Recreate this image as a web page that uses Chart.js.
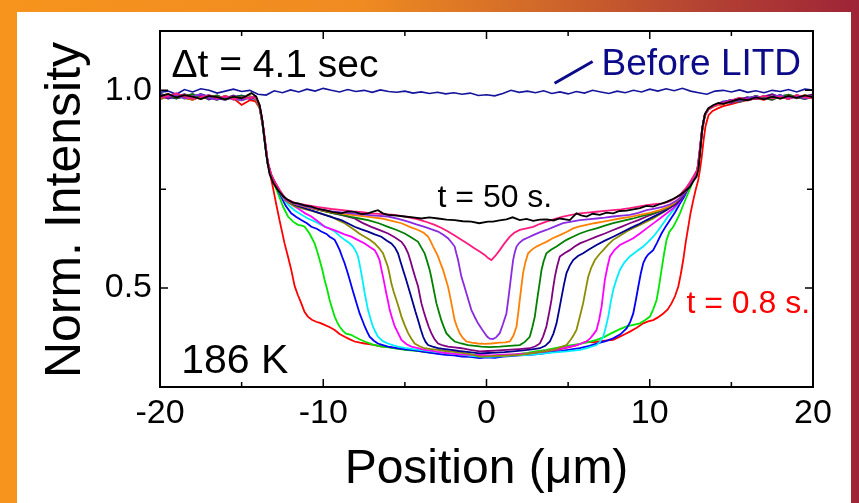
<!DOCTYPE html>
<html>
<head>
<meta charset="utf-8">
<script src="https://cdn.jsdelivr.net/npm/chart.js@4.4.1/dist/chart.umd.min.js"></script>
<style>
  html, body { margin: 0; padding: 0; background: #fff; }
</style>
</head>
<body>
<canvas id="profileChart" width="859" height="503"></canvas>
<script>
// times after the start of LITD (s), one profile every 4.1 s
const times = [0.8, 4.9, 9.0, 13.1, 17.2, 21.3, 25.4, 29.5, 33.6, 37.7, 41.8, 45.9, 50.0];
const colors = ['#ff0000', '#00e600', '#0000ff', '#00eeff', '#ff00ff', '#8c8c00', '#000090',
  '#800080', '#008000', '#ff8000', '#8a2be2', '#ff1a80', '#000000'];

const xMajor = [-20, -10, 0, 10, 20];
const xMinor = [-15, -5, 5, 15];
const yMajor = [0.5, 1.0];
const yMinor = [0.75];

// profiles: [position (um), normalised intensity]
const p08 = [[-20,.978],[-19.5,.984],[-19,.989],[-18.5,.981],[-18,.976],[-17.5,.985],[-17,.982],[-16.5,.977],[-16,.986],[-15.5,.98],[-15,.963],[-14.5,.975],[-14.15,.972],[-13.9,.955],[-13.7,.91],[-13.55,.86],[-13.4,.816],[-13.09,.756],[-12.88,.712],[-12.68,.672],[-12.37,.613],[-12.15,.578],[-11.96,.546],[-11.75,.505],[-11.55,.482],[-11.35,.462],[-11.15,.44],[-10.94,.428],[-10.7,.42],[-10.43,.415],[-10.2,.412],[-9.92,.407],[-9.6,.401],[-9.3,.394],[-9.0,.384],[-8.69,.377],[-8.4,.371],[-8.08,.365],[-7.75,.362],[-7.46,.36],[-7.0,.357],[-6.5,.353],[-6.0,.351],[-5.5,.348],[-5.0,.345],[-4.5,.343],[-4.0,.34],[-3.5,.338],[-3.0,.336],[-2.5,.333],[-2.0,.332],[-1.5,.33],[-1.0,.329],[-0.5,.328],[0,.327],[0.5,.328],[1,.329],[1.5,.33],[2,.332],[2.5,.334],[3,.336],[3.5,.339],[4,.342],[4.5,.346],[5,.35],[5.5,.355],[6.13,.365],[6.5,.363],[7,.366],[7.4,.368],[7.76,.369],[8.2,.378],[8.5,.384],[8.78,.39],[9.2,.4],[9.6,.411],[9.9,.416],[10.21,.419],[10.5,.426],[10.83,.436],[11.1,.446],[11.34,.462],[11.55,.48],[11.75,.504],[11.9,.535],[12.05,.571],[12.2,.615],[12.36,.655],[12.5,.69],[12.67,.723],[12.82,.75],[12.97,.773],[13.08,.8],[13.18,.83],[13.3,.875],[13.42,.91],[13.6,.937],[13.85,.948],[14.2,.955],[14.5,.96],[15,.965],[15.5,.971],[16,.975],[16.5,.98],[17,.976],[17.5,.984],[18,.979],[18.5,.986],[19,.982],[19.5,.988],[20,.983]];
const p49 = [[-20,.99],[-19.5,.983],[-19,.987],[-18.5,.979],[-18,.985],[-17.5,.99],[-17,.981],[-16.5,.976],[-16,.984],[-15.5,.979],[-15,.975],[-14.5,.982],[-14.15,.979],[-13.9,.958],[-13.72,.915],[-13.55,.858],[-13.38,.81],[-13.15,.778],[-12.95,.757],[-12.78,.74],[-12.45,.705],[-12.16,.681],[-11.85,.668],[-11.55,.66],[-11.3,.658],[-11.14,.655],[-10.84,.638],[-10.53,.613],[-10.35,.59],[-10.22,.571],[-10.05,.545],[-9.92,.521],[-9.75,.495],[-9.61,.47],[-9.45,.448],[-9.3,.428],[-9.15,.414],[-9.0,.403],[-8.8,.392],[-8.6,.385],[-8.3,.382],[-8.08,.377],[-7.75,.37],[-7.46,.365],[-7.0,.358],[-6.5,.353],[-6.0,.35],[-5.5,.347],[-5.0,.344],[-4.5,.342],[-4.0,.34],[-3.5,.337],[-3.0,.336],[-2.5,.333],[-2.0,.332],[-1.5,.33],[-1.0,.329],[-0.5,.327],[0,.328],[0.5,.327],[1,.33],[1.5,.331],[2,.334],[2.5,.336],[3,.34],[3.67,.344],[4.2,.348],[4.7,.352],[5.2,.356],[5.7,.359],[6.2,.363],[6.74,.369],[7.2,.376],[7.6,.385],[8.1,.395],[8.58,.403],[9.0,.407],[9.4,.411],[9.7,.419],[10.01,.428],[10.2,.445],[10.42,.47],[10.57,.505],[10.72,.546],[10.87,.585],[11.03,.622],[11.2,.642],[11.44,.655],[11.65,.672],[11.85,.689],[12.05,.71],[12.26,.731],[12.47,.752],[12.67,.773],[12.85,.79],[12.98,.81],[13.1,.855],[13.22,.905],[13.38,.94],[13.6,.953],[13.95,.96],[14.5,.97],[15,.976],[15.5,.973],[16,.98],[16.5,.985],[17,.978],[17.5,.983],[18,.988],[18.5,.98],[19,.985],[19.5,.979],[20,.986]];
const p90 = [[-20,.98],[-19.5,.986],[-19,.992],[-18.5,.984],[-18,.978],[-17.5,.983],[-17,.988],[-16.5,.98],[-16,.985],[-15.5,.977],[-15,.983],[-14.5,.979],[-14.15,.981],[-13.9,.96],[-13.72,.918],[-13.55,.862],[-13.4,.815],[-13.2,.786],[-13.0,.767],[-12.8,.75],[-12.6,.733],[-12.3,.708],[-11.96,.689],[-11.65,.68],[-11.35,.672],[-11.0,.664],[-10.73,.655],[-10.4,.65],[-10.12,.643],[-9.8,.637],[-9.61,.63],[-9.45,.626],[-9.3,.622],[-9.15,.61],[-8.99,.596],[-8.85,.58],[-8.69,.563],[-8.53,.542],[-8.38,.521],[-8.23,.499],[-8.08,.478],[-7.92,.456],[-7.77,.436],[-7.6,.418],[-7.46,.403],[-7.3,.389],[-7.16,.377],[-6.9,.367],[-6.65,.36],[-6.35,.356],[-6.04,.352],[-5.5,.348],[-5.0,.345],[-4.5,.343],[-4.0,.34],[-3.5,.337],[-3.0,.334],[-2.5,.331],[-2.0,.33],[-1.5,.327],[-1.0,.326],[-0.41,.323],[0,.325],[0.5,.324],[1,.327],[1.5,.328],[2,.33],[2.65,.331],[3.3,.334],[4,.338],[4.6,.341],[5.2,.345],[5.72,.348],[6.3,.354],[6.8,.36],[7.3,.366],[7.76,.373],[8.2,.383],[8.58,.398],[8.8,.414],[8.99,.436],[9.15,.47],[9.3,.504],[9.45,.537],[9.6,.563],[9.75,.576],[9.9,.585],[10.21,.596],[10.45,.615],[10.72,.638],[10.98,.656],[11.24,.672],[11.55,.692],[11.85,.714],[12.1,.73],[12.35,.752],[12.6,.772],[12.8,.788],[12.97,.805],[13.1,.855],[13.22,.9],[13.38,.937],[13.6,.952],[13.95,.96],[14.5,.968],[15,.974],[15.5,.981],[16,.976],[16.5,.979],[17,.986],[17.5,.98],[18,.984],[18.5,.978],[19,.988],[19.5,.983],[20,.98]];
const p131 = [[-20,.987],[-19.5,.979],[-19,.984],[-18.5,.99],[-18,.982],[-17.5,.986],[-17,.977],[-16.5,.984],[-16,.98],[-15.5,.987],[-15,.978],[-14.5,.984],[-14.15,.98],[-13.9,.957],[-13.72,.912],[-13.55,.857],[-13.4,.812],[-13.2,.784],[-13.0,.768],[-12.7,.745],[-12.3,.718],[-12.0,.705],[-11.76,.697],[-11.35,.686],[-10.94,.676],[-10.5,.668],[-10.12,.66],[-9.7,.652],[-9.3,.643],[-9.0,.632],[-8.69,.622],[-8.4,.614],[-8.18,.605],[-8.0,.593],[-7.87,.58],[-7.77,.56],[-7.67,.538],[-7.56,.512],[-7.46,.487],[-7.36,.466],[-7.26,.445],[-7.1,.422],[-6.96,.403],[-6.8,.389],[-6.65,.377],[-6.35,.366],[-6.04,.36],[-5.7,.355],[-5.42,.352],[-5.0,.349],[-4.5,.346],[-4.0,.343],[-3.5,.341],[-3.0,.338],[-2.5,.336],[-2.0,.334],[-1.5,.332],[-1.0,.329],[-0.41,.327],[0.2,.326],[1,.328],[1.8,.33],[2.65,.331],[3.3,.334],[4,.337],[4.9,.34],[5.72,.344],[6.2,.349],[6.74,.356],[6.95,.364],[7.15,.377],[7.3,.4],[7.46,.428],[7.6,.462],[7.76,.495],[7.96,.522],[8.17,.546],[8.45,.565],[8.78,.58],[9.2,.593],[9.6,.605],[9.9,.617],[10.21,.63],[10.5,.645],[10.83,.664],[11.1,.68],[11.44,.697],[11.7,.712],[11.95,.728],[12.25,.748],[12.5,.765],[12.75,.782],[12.95,.8],[13.08,.848],[13.22,.903],[13.38,.938],[13.6,.954],[13.95,.961],[14.5,.972],[15,.968],[15.5,.977],[16,.983],[16.5,.978],[17,.984],[17.5,.99],[18,.982],[18.5,.986],[19,.98],[19.5,.985],[20,.99]];
const p172 = [[-20,.983],[-19.5,.988],[-19,.98],[-18.5,.985],[-18,.991],[-17.5,.979],[-17,.983],[-16.5,.987],[-16,.978],[-15.5,.982],[-15,.986],[-14.5,.981],[-14.15,.983],[-13.9,.962],[-13.72,.92],[-13.55,.865],[-13.4,.818],[-13.2,.787],[-13.0,.77],[-12.7,.747],[-12.3,.722],[-11.9,.71],[-11.5,.7],[-11.1,.689],[-10.73,.681],[-10.3,.668],[-9.92,.655],[-9.5,.649],[-9.1,.643],[-8.7,.636],[-8.28,.63],[-7.9,.622],[-7.46,.613],[-7.15,.604],[-6.85,.596],[-6.7,.585],[-6.55,.571],[-6.45,.55],[-6.34,.529],[-6.24,.508],[-6.14,.487],[-6.03,.466],[-5.93,.445],[-5.78,.424],[-5.62,.403],[-5.4,.385],[-5.21,.369],[-4.9,.358],[-4.6,.352],[-4.2,.348],[-3.79,.344],[-3.4,.342],[-3,.339],[-2.5,.336],[-2,.334],[-1.5,.332],[-1,.331],[-0.41,.331],[0.3,.33],[1,.332],[1.8,.333],[2.65,.335],[3.2,.338],[3.7,.341],[4.2,.345],[4.69,.348],[5.1,.352],[5.5,.356],[5.8,.36],[6.13,.365],[6.35,.373],[6.55,.383],[6.74,.394],[6.9,.42],[7.05,.453],[7.15,.487],[7.25,.521],[7.4,.552],[7.56,.58],[7.85,.597],[8.17,.609],[8.6,.618],[8.99,.626],[9.4,.638],[9.81,.651],[10.2,.663],[10.62,.676],[11.0,.688],[11.44,.702],[11.75,.715],[12.05,.732],[12.35,.752],[12.6,.77],[12.82,.788],[12.97,.805],[13.1,.858],[13.24,.908],[13.4,.941],[13.6,.955],[13.95,.962],[14.5,.965],[15,.975],[15.5,.971],[16,.978],[16.5,.986],[17,.98],[17.5,.976],[18,.985],[18.5,.989],[19,.983],[19.5,.978],[20,.984]];
const p213 = [[-20,.978],[-19.5,.984],[-19,.989],[-18.5,.981],[-18,.976],[-17.5,.985],[-17,.982],[-16.5,.977],[-16,.986],[-15.5,.98],[-15,.975],[-14.5,.983],[-14.15,.979],[-13.9,.955],[-13.72,.914],[-13.55,.86],[-13.4,.813],[-13.2,.785],[-13.0,.768],[-12.7,.746],[-12.3,.721],[-11.8,.708],[-11.2,.7],[-10.7,.695],[-10.3,.69],[-9.9,.685],[-9.51,.681],[-9.1,.672],[-8.69,.664],[-8.4,.656],[-8.08,.647],[-7.8,.638],[-7.46,.63],[-7.15,.622],[-6.85,.613],[-6.6,.602],[-6.34,.588],[-6.2,.572],[-6.04,.554],[-5.93,.533],[-5.83,.512],[-5.68,.49],[-5.52,.47],[-5.36,.449],[-5.21,.428],[-5.0,.405],[-4.8,.386],[-4.6,.372],[-4.4,.36],[-4.1,.353],[-3.79,.348],[-3.4,.346],[-2.97,.344],[-2.5,.341],[-2,.339],[-1.5,.336],[-1,.333],[-0.41,.327],[0.3,.328],[1,.329],[1.5,.33],[2.04,.331],[2.5,.334],[3,.337],[3.5,.34],[4.08,.344],[4.5,.35],[4.9,.356],[5.2,.372],[5.35,.382],[5.51,.394],[5.7,.425],[5.92,.462],[6.08,.497],[6.23,.529],[6.42,.552],[6.64,.571],[6.9,.585],[7.15,.596],[7.45,.61],[7.76,.622],[8.15,.632],[8.58,.643],[9.0,.652],[9.4,.66],[9.8,.668],[10.21,.676],[10.6,.686],[11.03,.697],[11.4,.71],[11.8,.725],[12.1,.74],[12.4,.758],[12.65,.776],[12.85,.792],[12.98,.81],[13.1,.86],[13.24,.907],[13.4,.94],[13.6,.953],[13.95,.961],[14.5,.968],[15,.974],[15.5,.981],[16,.976],[16.5,.979],[17,.986],[17.5,.98],[18,.984],[18.5,.978],[19,.988],[19.5,.983],[20,.98]];
const p254 = [[-20,.992],[-19.5,.985],[-19,.979],[-18.5,.986],[-18,.983],[-17.5,.99],[-17,.984],[-16.5,.98],[-16,.976],[-15.5,.983],[-15,.987],[-14.5,.979],[-14.15,.98],[-13.9,.958],[-13.72,.916],[-13.55,.861],[-13.4,.814],[-13.2,.786],[-13.0,.769],[-12.7,.747],[-12.3,.722],[-11.7,.71],[-11.0,.7],[-10.4,.692],[-9.9,.685],[-9.4,.678],[-8.89,.672],[-8.5,.664],[-8.08,.655],[-7.7,.649],[-7.26,.643],[-6.85,.636],[-6.44,.63],[-6.1,.62],[-5.83,.613],[-5.6,.602],[-5.42,.588],[-5.27,.567],[-5.11,.546],[-4.95,.525],[-4.8,.504],[-4.65,.483],[-4.5,.462],[-4.35,.44],[-4.19,.419],[-4.03,.396],[-3.88,.377],[-3.73,.364],[-3.58,.356],[-3.3,.352],[-2.97,.348],[-2.55,.346],[-2.15,.344],[-1.7,.341],[-1.2,.339],[-0.8,.337],[-0.41,.335],[0.1,.336],[0.6,.337],[1.1,.338],[1.63,.34],[2.1,.342],[2.5,.344],[2.9,.346],[3.27,.348],[3.6,.354],[3.88,.365],[4.1,.385],[4.29,.411],[4.45,.445],[4.6,.478],[4.75,.51],[4.9,.538],[5.1,.557],[5.31,.571],[5.6,.581],[5.92,.588],[6.3,.598],[6.74,.609],[7.25,.62],[7.76,.63],[8.25,.64],[8.78,.651],[9.3,.661],[9.81,.672],[10.3,.682],[10.83,.693],[11.25,.703],[11.65,.714],[11.95,.728],[12.25,.746],[12.5,.764],[12.75,.782],[12.95,.8],[13.08,.85],[13.22,.904],[13.38,.939],[13.6,.953],[13.95,.961],[14.5,.97],[15,.976],[15.5,.973],[16,.98],[16.5,.985],[17,.978],[17.5,.983],[18,.988],[18.5,.98],[19,.985],[19.5,.979],[20,.986]];
const p295 = [[-20,.987],[-19.5,.979],[-19,.984],[-18.5,.99],[-18,.982],[-17.5,.986],[-17,.977],[-16.5,.984],[-16,.98],[-15.5,.987],[-15,.978],[-14.5,.984],[-14.15,.982],[-13.9,.96],[-13.72,.918],[-13.55,.864],[-13.4,.816],[-13.2,.787],[-13.0,.77],[-12.7,.748],[-12.3,.722],[-11.7,.712],[-11.0,.705],[-10.2,.697],[-9.5,.69],[-8.8,.684],[-8.08,.676],[-7.6,.665],[-7.06,.655],[-6.5,.646],[-6.03,.638],[-5.6,.628],[-5.21,.617],[-5.0,.605],[-4.8,.588],[-4.65,.568],[-4.5,.546],[-4.35,.525],[-4.19,.504],[-4.09,.483],[-3.99,.462],[-3.84,.44],[-3.68,.419],[-3.53,.401],[-3.38,.386],[-3.2,.372],[-2.97,.36],[-2.66,.355],[-2.36,.352],[-1.95,.35],[-1.54,.348],[-1.0,.344],[-0.41,.34],[0.1,.341],[0.5,.342],[1.22,.344],[2.0,.346],[2.65,.348],[3.0,.353],[3.27,.36],[3.47,.378],[3.67,.403],[3.83,.436],[3.98,.47],[4.08,.5],[4.19,.529],[4.33,.556],[4.49,.58],[4.8,.589],[5.1,.596],[5.4,.605],[5.72,.613],[6.2,.621],[6.74,.63],[7.25,.638],[7.76,.647],[8.25,.655],[8.78,.664],[9.3,.672],[9.81,.681],[10.3,.689],[10.83,.697],[11.25,.705],[11.6,.715],[11.9,.728],[12.2,.745],[12.45,.762],[12.7,.78],[12.92,.797],[13.05,.84],[13.2,.9],[13.36,.937],[13.6,.953],[13.95,.961],[14.5,.972],[15,.968],[15.5,.977],[16,.983],[16.5,.978],[17,.984],[17.5,.99],[18,.982],[18.5,.986],[19,.98],[19.5,.985],[20,.99]];
const p336 = [[-20,.983],[-19.5,.988],[-19,.98],[-18.5,.985],[-18,.991],[-17.5,.979],[-17,.983],[-16.5,.987],[-16,.978],[-15.5,.982],[-15,.986],[-14.5,.981],[-14.15,.983],[-13.9,.961],[-13.72,.919],[-13.55,.863],[-13.4,.817],[-13.2,.787],[-13.0,.769],[-12.7,.747],[-12.3,.722],[-11.7,.712],[-11.0,.705],[-10.2,.697],[-9.5,.69],[-8.9,.686],[-8.3,.68],[-7.8,.676],[-7.26,.672],[-6.6,.664],[-6.03,.655],[-5.5,.647],[-5.01,.638],[-4.6,.628],[-4.19,.617],[-4.0,.603],[-3.79,.588],[-3.63,.567],[-3.48,.546],[-3.37,.525],[-3.27,.504],[-3.17,.483],[-3.07,.462],[-2.92,.44],[-2.77,.419],[-2.62,.402],[-2.46,.386],[-2.2,.374],[-1.95,.365],[-1.55,.36],[-1.13,.356],[-0.7,.354],[-0.32,.352],[0.2,.351],[0.81,.352],[1.4,.354],[2.04,.356],[2.35,.364],[2.65,.377],[2.8,.4],[2.96,.428],[3.06,.458],[3.16,.487],[3.27,.517],[3.37,.546],[3.5,.568],[3.67,.588],[3.95,.597],[4.29,.605],[4.6,.614],[4.9,.622],[5.3,.63],[5.72,.638],[6.2,.645],[6.74,.651],[7.25,.658],[7.76,.664],[8.35,.67],[8.99,.676],[9.6,.683],[10.21,.689],[10.6,.695],[11.03,.702],[11.45,.712],[11.8,.725],[12.1,.74],[12.4,.758],[12.65,.776],[12.88,.795],[13.02,.825],[13.15,.88],[13.3,.925],[13.5,.948],[13.8,.958],[14.2,.963],[14.5,.965],[15,.975],[15.5,.971],[16,.978],[16.5,.986],[17,.98],[17.5,.976],[18,.985],[18.5,.989],[19,.983],[19.5,.978],[20,.984]];
const p377 = [[-20,.985],[-19.5,.991],[-19,.982],[-18.5,.988],[-18,.984],[-17.5,.978],[-17,.986],[-16.5,.983],[-16,.977],[-15.5,.984],[-15,.98],[-14.5,.986],[-14.15,.98],[-13.9,.959],[-13.72,.917],[-13.55,.862],[-13.4,.815],[-13.2,.786],[-13.0,.768],[-12.7,.746],[-12.3,.721],[-11.7,.712],[-11.0,.705],[-10.2,.698],[-9.5,.692],[-8.8,.688],[-8.0,.684],[-7.2,.68],[-6.44,.676],[-5.8,.67],[-5.21,.664],[-4.7,.655],[-4.19,.647],[-3.85,.64],[-3.58,.63],[-3.42,.618],[-3.27,.605],[-3.12,.593],[-2.97,.58],[-2.82,.563],[-2.66,.546],[-2.51,.525],[-2.36,.504],[-2.25,.483],[-2.15,.462],[-2.05,.44],[-1.95,.419],[-1.8,.401],[-1.64,.386],[-1.45,.374],[-1.23,.365],[-0.9,.362],[-0.52,.36],[-0.1,.359],[0.3,.36],[0.8,.362],[1.15,.363],[1.43,.365],[1.65,.38],[1.84,.403],[1.94,.436],[2.04,.47],[2.14,.505],[2.24,.538],[2.38,.565],[2.55,.588],[2.8,.598],[3.06,.605],[3.35,.611],[3.67,.617],[4.05,.626],[4.49,.634],[4.9,.642],[5.31,.651],[5.7,.656],[6.13,.66],[6.6,.664],[7.15,.668],[7.65,.672],[8.17,.676],[8.8,.68],[9.4,.685],[10.0,.69],[10.62,.697],[11.1,.705],[11.5,.715],[11.85,.728],[12.2,.745],[12.45,.762],[12.7,.78],[12.92,.798],[13.05,.84],[13.2,.897],[13.36,.936],[13.6,.952],[13.95,.96],[14.5,.966],[15,.972],[15.5,.978],[16,.975],[16.5,.982],[17,.977],[17.5,.984],[18,.979],[18.5,.986],[19,.981],[19.5,.987],[20,.983]];
const p418 = [[-20,.99],[-19.5,.983],[-19,.987],[-18.5,.979],[-18,.985],[-17.5,.99],[-17,.981],[-16.5,.976],[-16,.984],[-15.5,.979],[-15,.975],[-14.5,.982],[-14.15,.983],[-13.9,.962],[-13.72,.92],[-13.55,.866],[-13.4,.818],[-13.2,.788],[-13.0,.77],[-12.7,.748],[-12.3,.723],[-11.7,.713],[-11.0,.706],[-10.2,.699],[-9.5,.694],[-8.7,.691],[-8.0,.688],[-7.0,.684],[-6.03,.681],[-5.4,.675],[-4.8,.668],[-4.3,.661],[-3.79,.655],[-3.4,.649],[-2.97,.643],[-2.65,.635],[-2.36,.626],[-2.15,.616],[-1.95,.605],[-1.85,.588],[-1.74,.571],[-1.64,.55],[-1.54,.529],[-1.38,.508],[-1.23,.487],[-1.08,.466],[-0.93,.445],[-0.72,.427],[-0.52,.411],[-0.3,.397],[-0.11,.386],[0.05,.377],[0.2,.372],[0.4,.371],[0.6,.376],[0.81,.386],[1.0,.408],[1.22,.436],[1.33,.47],[1.43,.504],[1.53,.538],[1.63,.571],[1.73,.59],[1.84,.605],[2.0,.614],[2.24,.622],[2.55,.628],[2.86,.634],[3.25,.641],[3.67,.647],[4.2,.656],[4.69,.664],[5.2,.668],[5.72,.672],[6.2,.674],[6.74,.676],[7.25,.678],[7.76,.681],[8.3,.683],[8.78,.685],[9.3,.69],[9.81,.697],[10.3,.701],[10.83,.706],[11.25,.712],[11.6,.72],[11.9,.73],[12.2,.745],[12.45,.763],[12.7,.781],[12.92,.798],[13.05,.845],[13.2,.9],[13.36,.937],[13.6,.953],[13.95,.961],[14.5,.97],[15,.976],[15.5,.973],[16,.98],[16.5,.985],[17,.978],[17.5,.983],[18,.988],[18.5,.98],[19,.985],[19.5,.979],[20,.986]];
const p459 = [[-20,.98],[-19.5,.986],[-19,.992],[-18.5,.984],[-18,.978],[-17.5,.983],[-17,.988],[-16.5,.98],[-16,.985],[-15.5,.977],[-15,.983],[-14.5,.979],[-14.15,.984],[-13.9,.963],[-13.72,.921],[-13.55,.867],[-13.4,.82],[-13.2,.789],[-13.0,.771],[-12.7,.75],[-12.3,.726],[-11.7,.715],[-11.0,.71],[-10.3,.705],[-9.5,.7],[-8.8,.697],[-8.2,.694],[-7.6,.692],[-7.06,.689],[-6.3,.687],[-5.62,.685],[-5.0,.681],[-4.4,.676],[-3.8,.669],[-3.17,.66],[-2.75,.652],[-2.36,.643],[-1.95,.633],[-1.54,.622],[-1.15,.612],[-0.72,.6],[-0.4,.592],[-0.11,.584],[0.1,.576],[0.3,.571],[0.55,.582],[0.81,.596],[1.1,.613],[1.43,.63],[1.7,.64],[2.04,.647],[2.45,.651],[2.86,.655],[3.25,.662],[3.67,.668],[4.2,.675],[4.69,.681],[5.2,.685],[5.72,.689],[6.2,.691],[6.74,.693],[7.25,.695],[7.76,.697],[8.25,.699],[8.78,.702],[9.3,.706],[9.81,.71],[10.3,.712],[10.83,.714],[11.25,.72],[11.6,.728],[11.9,.738],[12.2,.752],[12.45,.767],[12.7,.784],[12.92,.8],[13.05,.845],[13.2,.9],[13.36,.937],[13.6,.953],[13.95,.961],[14.5,.968],[15,.974],[15.5,.981],[16,.976],[16.5,.979],[17,.986],[17.5,.98],[18,.984],[18.5,.978],[19,.988],[19.5,.983],[20,.98]];
const p500 = [[-20,.985],[-19.5,.991],[-19,.982],[-18.5,.988],[-18,.984],[-17.5,.978],[-17,.986],[-16.5,.983],[-16,.977],[-15.5,.984],[-15,.98],[-14.7,.986],[-14.4,.993],[-14.1,.984],[-13.9,.962],[-13.75,.93],[-13.6,.878],[-13.5,.84],[-13.3,.79],[-13.05,.765],[-12.78,.748],[-12.45,.732],[-12.16,.723],[-11.85,.716],[-11.55,.714],[-11.15,.709],[-10.73,.706],[-10.3,.7],[-9.92,.697],[-9.4,.692],[-8.89,.689],[-8.5,.694],[-8.08,.693],[-7.65,.687],[-7.26,.689],[-6.9,.694],[-6.65,.697],[-6.35,.689],[-6.03,.685],[-5.5,.683],[-5.01,.681],[-4.5,.679],[-3.99,.676],[-3.5,.679],[-2.97,.676],[-2.45,.673],[-1.95,.672],[-1.45,.669],[-0.93,.668],[-0.45,.664],[0.09,.668],[0.4,.668],[0.8,.671],[1.22,.674],[1.6,.679],[2.04,.672],[2.45,.675],[2.86,.67],[3.27,.673],[3.67,.674],[4.1,.671],[4.49,.676],[5.1,.672],[5.51,.689],[5.8,.684],[6.13,.681],[6.5,.688],[6.94,.685],[7.35,.691],[7.76,.689],[8.15,.695],[8.58,.696],[9.0,.699],[9.4,.702],[9.8,.708],[10.21,.706],[10.6,.712],[11.03,.718],[11.45,.726],[11.85,.735],[12.15,.745],[12.46,.756],[12.7,.772],[12.87,.782],[12.98,.8],[13.1,.85],[13.22,.905],[13.38,.94],[13.6,.955],[13.9,.963],[14.2,.968],[14.5,.966],[15,.972],[15.5,.978],[16,.975],[16.5,.982],[17,.977],[17.5,.984],[18,.979],[18.5,.986],[19,.981],[19.5,.987],[20,.983]];
const profiles = [p08, p49, p90, p131, p172, p213, p254, p295, p336, p377, p418, p459, p500];

const beforeLitd = [[-20,.995],[-19.5,.998],[-19,.99],[-18.5,1.002],[-18,.996],[-17.5,1.004],[-17,1.0],[-16.5,.993],[-16,.998],[-15.5,1.003],[-15,.997],[-14.5,1.0],[-14,.99],[-13.5,.988],[-13,.999],[-12.5,.994],[-12,1.001],[-11.5,.996],[-11,1.003],[-10.5,.998],[-10,1.005],[-9.5,1.0],[-9,.996],[-8.5,1.002],[-8,.997],[-7.5,1.0],[-7,.995],[-6.5,1.001],[-6,.997],[-5.5,.995],[-5,.998],[-4.5,.993],[-4,.996],[-3.5,.992],[-3,.995],[-2.5,.991],[-2,.994],[-1.5,.99],[-1,.993],[-0.5,.987],[0,.989],[0.5,.986],[1,.992],[1.5,1.0],[2,.995],[2.5,.998],[3,.994],[3.5,.999],[4,.992],[4.5,.996],[5,.991],[5.5,.997],[6,.993],[6.5,1.0],[7,.996],[7.5,.992],[8,.998],[8.5,.994],[9,1.0],[9.5,.996],[10,1.003],[10.5,.998],[11,1.004],[11.5,.999],[12,1.005],[12.5,.998],[13,.994],[13.5,.99],[14,.998],[14.5,1.0],[15,.996],[15.5,1.001],[16,.995],[16.5,.999],[17,.994],[17.5,1.0],[18,.997],[18.5,1.002],[19,.996],[19.5,1.003],[20,1.001]];

const FONT = "'Liberation Sans', Arial, sans-serif";
Chart.defaults.font.family = FONT;
Chart.defaults.color = '#000';

// text notes placed in data coordinates
const notes = [
  { text: '\u0394t = 4.1 sec', x: -19.3, y: 1.033, size: 39, color: '#000' },
  { text: 'Before LITD', x: 7.05, y: 1.038, size: 37, color: '#0b0b8a' },
  { text: 't = 50 s.', x: -3.0, y: 0.705, size: 32, color: '#000' },
  { text: 't = 0.8 s.', x: 12.25, y: 0.437, size: 32, color: '#ff0000' },
  { text: '186 K', x: -18.7, y: 0.285, size: 41, color: '#000' },
];

const page = {
  id: 'page',
  beforeDraw(chart) {
    const { ctx, width, height } = chart;
    ctx.save();
    const g = ctx.createLinearGradient(0, 0, width, 0);
    g.addColorStop(0, '#f7941d');
    g.addColorStop(0.42, '#ef8b21');
    g.addColorStop(0.62, '#d26a29');
    g.addColorStop(0.82, '#b44233');
    g.addColorStop(1, '#9e2437');
    ctx.fillStyle = g;
    ctx.fillRect(0, 0, width, height);
    ctx.fillStyle = '#fff';
    ctx.fillRect(17, 12, 834, height - 12);
    ctx.restore();
  },
  afterDatasetsDraw(chart) {
    const { ctx, chartArea: a, scales: { x, y } } = chart;
    ctx.save();
    ctx.strokeStyle = '#000';
    ctx.lineWidth = 2;
    ctx.strokeRect(a.left, a.top, a.right - a.left, a.bottom - a.top);
    ctx.lineWidth = 1.5;
    ctx.beginPath();
    const xt = (v, len) => {
      const px = x.getPixelForValue(v);
      ctx.moveTo(px, a.bottom); ctx.lineTo(px, a.bottom - len);
      ctx.moveTo(px, a.top); ctx.lineTo(px, a.top + len);
    };
    const yt = (v, len) => {
      const py = y.getPixelForValue(v);
      ctx.moveTo(a.left, py); ctx.lineTo(a.left + len, py);
      ctx.moveTo(a.right, py); ctx.lineTo(a.right - len, py);
    };
    xMajor.forEach(v => xt(v, 8));
    xMinor.forEach(v => xt(v, 5));
    yMajor.forEach(v => yt(v, 8));
    yMinor.forEach(v => yt(v, 6));
    ctx.stroke();

    // pointer from the label to the before-LITD trace
    ctx.strokeStyle = '#0b0b8a';
    ctx.lineWidth = 3;
    ctx.beginPath();
    ctx.moveTo(x.getPixelForValue(4.17), y.getPixelForValue(1.018));
    ctx.lineTo(x.getPixelForValue(6.5), y.getPixelForValue(1.073));
    ctx.stroke();

    ctx.textBaseline = 'alphabetic';
    ctx.textAlign = 'left';
    notes.forEach(n => {
      ctx.font = n.size + 'px ' + FONT;
      ctx.fillStyle = n.color;
      ctx.fillText(n.text, x.getPixelForValue(n.x), y.getPixelForValue(n.y));
    });

    // axis titles
    ctx.fillStyle = '#000';
    ctx.textAlign = 'center';
    ctx.font = '48px ' + FONT;
    ctx.fillText('Position (\u03bcm)', (a.left + a.right) / 2, 483);
    ctx.translate(80, 210);
    ctx.rotate(-Math.PI / 2);
    ctx.font = '50px ' + FONT;
    ctx.fillText('Norm. Intensity', 0, 0);
    ctx.restore();
  }
};

const datasets = profiles.map((p, i) => ({
  label: 't = ' + times[i] + ' s',
  data: p,
  borderColor: colors[i],
  borderWidth: 1.8,
  pointRadius: 0,
  fill: false,
  tension: 0
})).reverse();
datasets.push({
  label: 'Before LITD',
  data: beforeLitd,
  borderColor: '#13139c',
  borderWidth: 1.6,
  pointRadius: 0,
  fill: false,
  tension: 0
});

const ctx = document.getElementById('profileChart').getContext('2d');
const profileChart = new Chart(ctx, {
  type: 'line',
  data: { datasets: datasets },
  options: {
    responsive: false,
    animation: false,
    devicePixelRatio: 1,
    layout: { padding: { top: 31, right: 46, left: 0, bottom: 0 } },
    plugins: { legend: { display: false }, tooltip: { enabled: false } },
    scales: {
      x: {
        type: 'linear',
        min: -20,
        max: 20,
        grid: { display: false, drawTicks: false },
        border: { display: false },
        ticks: { stepSize: 10, autoSkip: false, maxRotation: 0, padding: 6, font: { size: 34 }, color: '#000' },
        afterFit(s) { s.height = 116; }
      },
      y: {
        type: 'linear',
        min: 0.25,
        max: 1.15,
        grid: { display: false, drawTicks: false },
        border: { display: false },
        afterBuildTicks(s) { s.ticks = yMajor.map(v => ({ value: v })); },
        ticks: { padding: 8, font: { size: 34 }, color: '#000', callback: v => v.toFixed(1) },
        afterFit(s) { s.width = 160; }
      }
    }
  },
  plugins: [page]
});
</script>
</body>
</html>
